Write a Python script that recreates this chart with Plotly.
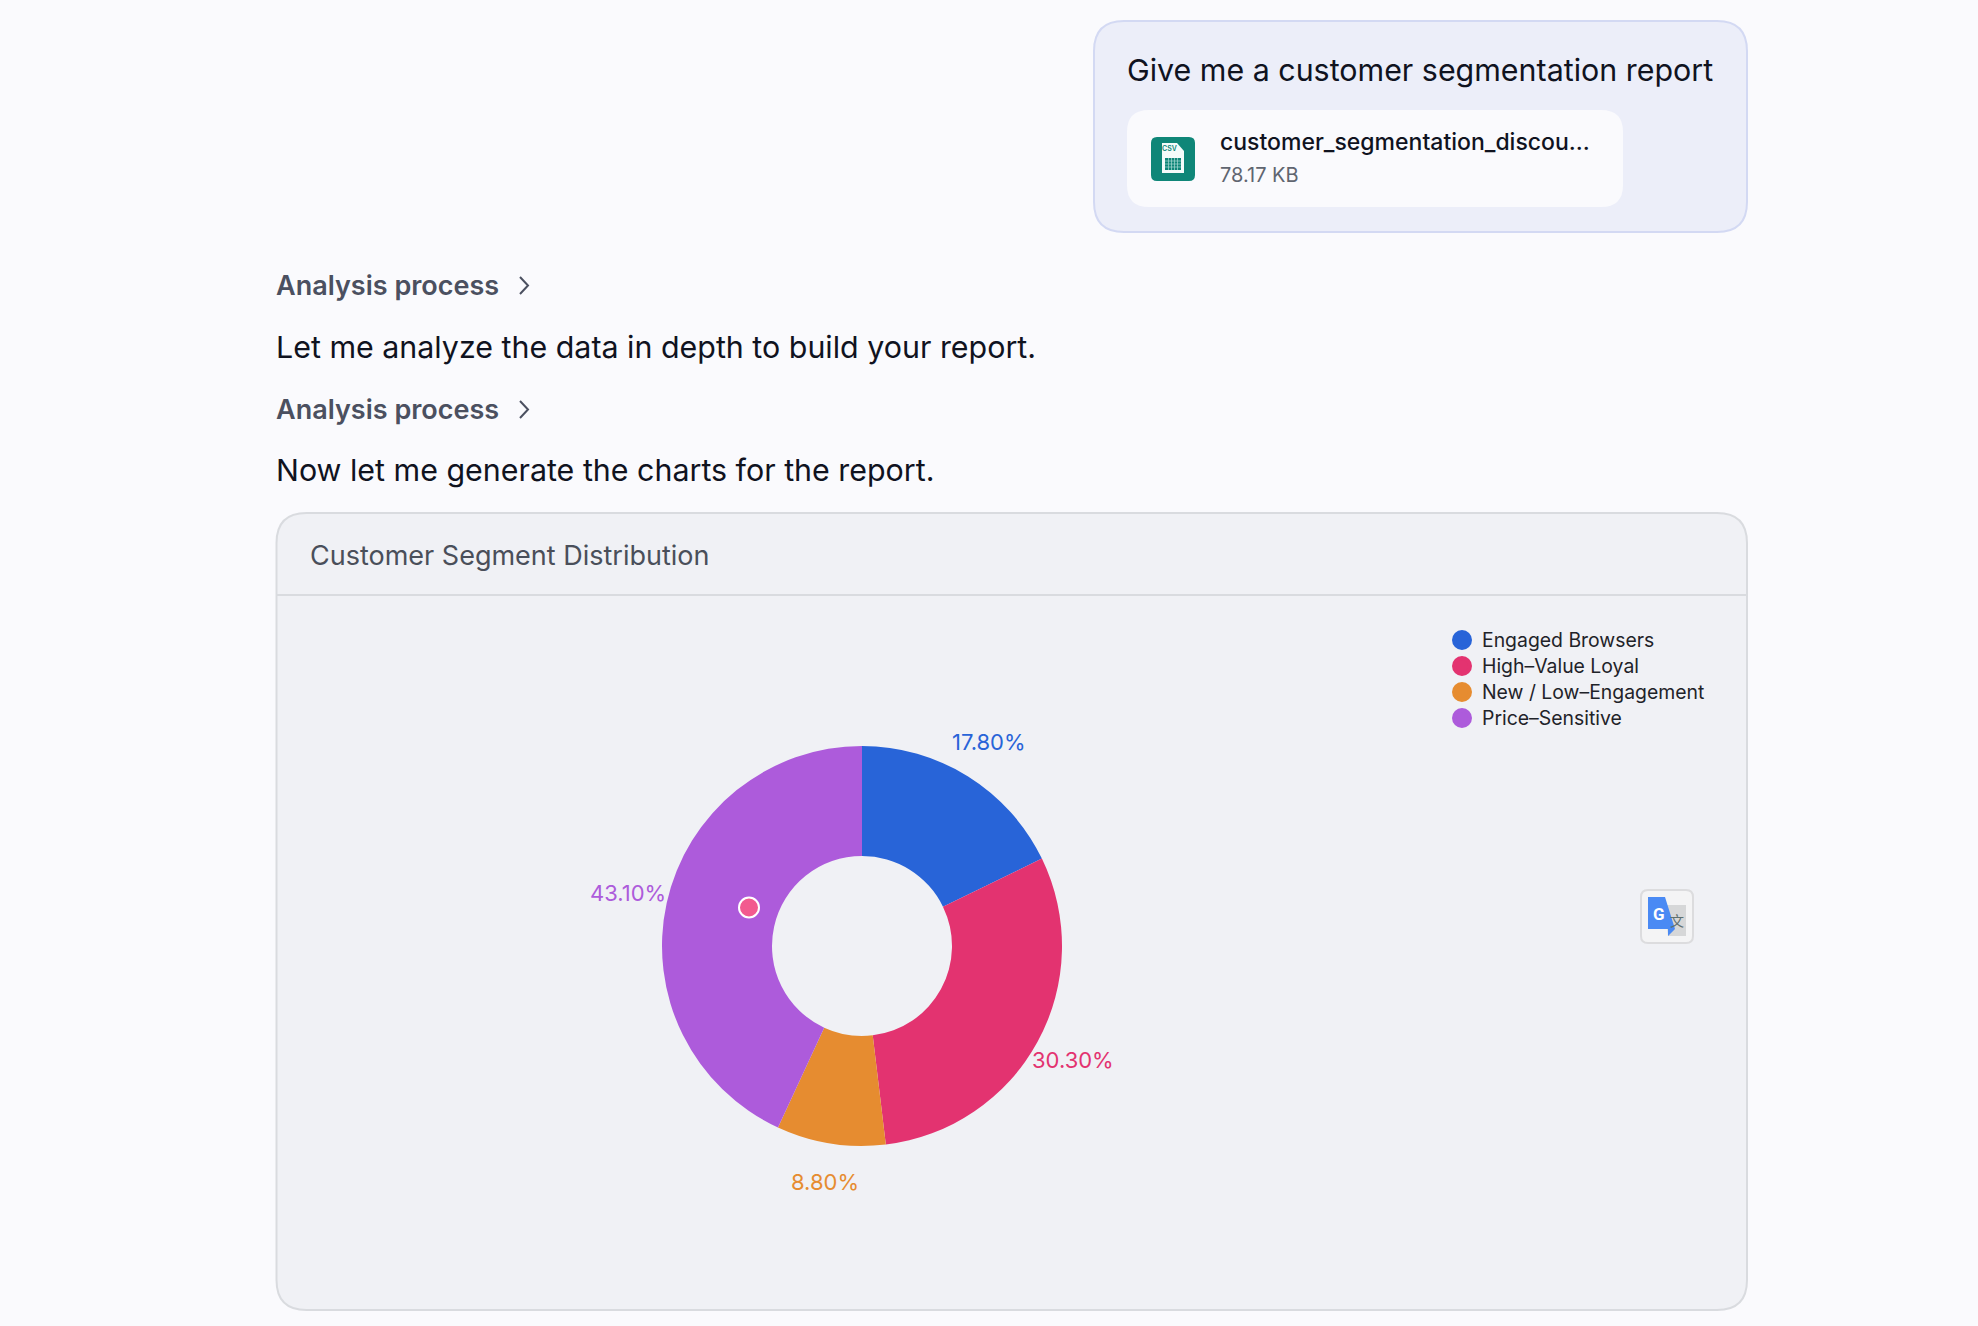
import plotly.graph_objects as go

W = 1978
H = 1326

# chart data
segments = ["Engaged Browsers", "High–Value Loyal", "New / Low–Engagement", "Price–Sensitive"]
shares = [17.8, 30.3, 8.8, 43.1]
colors = ["#2864d8", "#e33370", "#e68c30", "#ad5bdb"]
# where each percentage sits on the page, in pixels
share_label_x = [988.5, 1072.5, 824.5, 627.5]
share_label_y = [741.5, 1059.5, 1181.5, 892.5]

FONT = "Inter"


def fx(x):
    return x / W


def fy(y):
    return 1 - y / H


def rrect(x0, y0, x1, y1, r):
    # rounded box as a svg path, in paper fractions
    a, b, c, d = fx(x0), fy(y0), fx(x1), fy(y1)
    ax, bx = fx(x0 + r), fx(x1 - r)
    ay, by = fy(y0 + r), fy(y1 - r)
    return (f"M {ax} {b} L {bx} {b} Q {c} {b} {c} {ay} L {c} {by} Q {c} {d} {bx} {d} "
            f"L {ax} {d} Q {a} {d} {a} {by} L {a} {ay} Q {a} {b} {ax} {b} Z")


def poly(pts, close=True):
    s = "M " + " L ".join(f"{fx(x)} {fy(y)}" for x, y in pts)
    return s + " Z" if close else s


def shape_path(path, fill="rgba(0,0,0,0)", line=None, width=0, layer="below"):
    return dict(type="path", path=path, xref="paper", yref="paper", fillcolor=fill,
                line=dict(color=line or "rgba(0,0,0,0)", width=width), layer=layer)


def label(x, y, text, size, color, weight=400, family=FONT, anchor="left"):
    return dict(x=fx(x), y=fy(y), xref="paper", yref="paper", text=text, showarrow=False,
                xanchor=anchor, yanchor="middle", borderpad=0,
                font=dict(family=family, size=size, color=color, weight=weight))


shapes = [
    # user bubble and attachment card
    shape_path(rrect(1094, 21, 1747, 232, 30), "#eceef9", "#d3d9f3", 2),
    shape_path(rrect(1127, 110, 1623, 207, 22), "#fafafd"),
    # chart card
    shape_path(rrect(276.5, 513, 1747, 1310, 30), "#f0f1f5", "#d9dbdf", 2),
    shape_path(poly([(276.5, 595), (1747, 595)], False), line="#d9dbdf", width=2),
    # chevrons
    shape_path(poly([(520, 277), (528, 285.5), (520, 294)], False), line="#4b5060", width=2),
    shape_path(poly([(520, 401), (528, 409.5), (520, 418)], False), line="#4b5060", width=2),
    # csv icon
    shape_path(rrect(1151, 137, 1195, 181, 6), "#0f8678", layer="above"),
    shape_path(poly([(1162, 143), (1177, 143), (1184, 151), (1184, 173), (1162, 173)]), "#f4fbfa", layer="above"),
    shape_path(poly([(1165, 158), (1181, 158), (1181, 170), (1165, 170)]), "#0f8678", layer="above"),
]
# grid of the little sheet in the csv icon
for gx in [1168.5, 1171.5, 1174.5, 1177.5]:
    shapes.append(shape_path(poly([(gx, 158), (gx, 170)], False), line="#a9d8d2", width=0.7, layer="above"))
for gy in [161, 164, 167]:
    shapes.append(shape_path(poly([(1165, gy), (1181, gy)], False), line="#a9d8d2", width=0.7, layer="above"))
shapes += [
    # translate button
    shape_path(rrect(1641, 890, 1693, 943, 7), "#f4f4f5", "#dcdcde", 2, layer="above"),
    shape_path(poly([(1665, 905), (1686, 905), (1686, 936), (1668, 936)]), "#d6d7d8", layer="above"),
    shape_path(poly([(1648, 897), (1665, 897), (1675, 929), (1668, 936), (1668, 929), (1648, 929)]),
               "#4a8af4", layer="above"),
    # cursor dot
    dict(type="circle", xref="paper", yref="paper", x0=fx(739), x1=fx(759), y0=fy(917.5), y1=fy(897.5),
         fillcolor="#f25a8f", line=dict(color="#ffffff", width=2), layer="above"),
]

annotations = [
    label(1126, 69.5, "Give me a customer segmentation report", 30.4, "#10131f"),
    label(1219, 142, "customer_segmentation_discou...", 23, "#10131f", 500),
    label(1219, 175, "78.17 KB", 20, "#5f6570"),
    label(275, 285, "Analysis process", 27, "#4b5060", 600),
    label(275, 347, "Let me analyze the data in depth to build your report.", 30.4, "#10131f"),
    label(275, 409, "Analysis process", 27, "#4b5060", 600),
    label(275, 470, "Now let me generate the charts for the report.", 30.4, "#10131f"),
    label(308.5, 555.5, "Customer Segment Distribution", 27, "#4a4f5a"),
    label(1169, 148, "CSV", 7, "#0f8678", 600, anchor="center"),
    label(1659, 914, "G", 17, "#ffffff", 700, "Roboto", "center"),
    label(1677, 920, "文", 14, "#5f7070", 400, "Noto Sans CJK SC", "center"),
]
for v, c, lx, ly in zip(shares, colors, share_label_x, share_label_y):
    annotations.append(label(lx, ly, f"{v:.2f}%", 22, c, anchor="center"))

fig = go.Figure()

fig.add_trace(go.Pie(
    labels=segments,
    values=shares,
    hole=0.45,
    sort=False,
    direction="clockwise",
    rotation=0,
    domain=dict(x=[fx(662), fx(1062)], y=[fy(1146), fy(746)]),
    marker=dict(colors=colors, line=dict(width=0)),
    textinfo="none",
    showlegend=False,
    hoverinfo="skip",
))

# legend entries with round keys, span keeps the text wide but the rows tight
for name, col in zip(segments, colors):
    fig.add_trace(go.Scatter(
        x=[None], y=[None], name=f'<span style="font-size:19.4px">{name}</span>', mode="markers",
        marker=dict(color=col, size=16, line=dict(color=col, width=4)),
    ))

fig.update_layout(
    width=W,
    height=H,
    margin=dict(l=0, r=0, t=0, b=0),
    paper_bgcolor="#fafafd",
    plot_bgcolor="rgba(0,0,0,0)",
    xaxis=dict(visible=False),
    yaxis=dict(visible=False),
    shapes=shapes,
    annotations=annotations,
    legend=dict(
        x=fx(1442), y=fy(622), xanchor="left", yanchor="top",
        bgcolor="rgba(0,0,0,0)", itemwidth=30, tracegroupgap=0,
        font=dict(family=FONT, size=17.7, color="#1f2329"),
    ),
)

fig.write_html("out.html", config={"displayModeBar": False},
               post_script="document.body.style.margin='0';document.body.style.overflow='hidden';")
